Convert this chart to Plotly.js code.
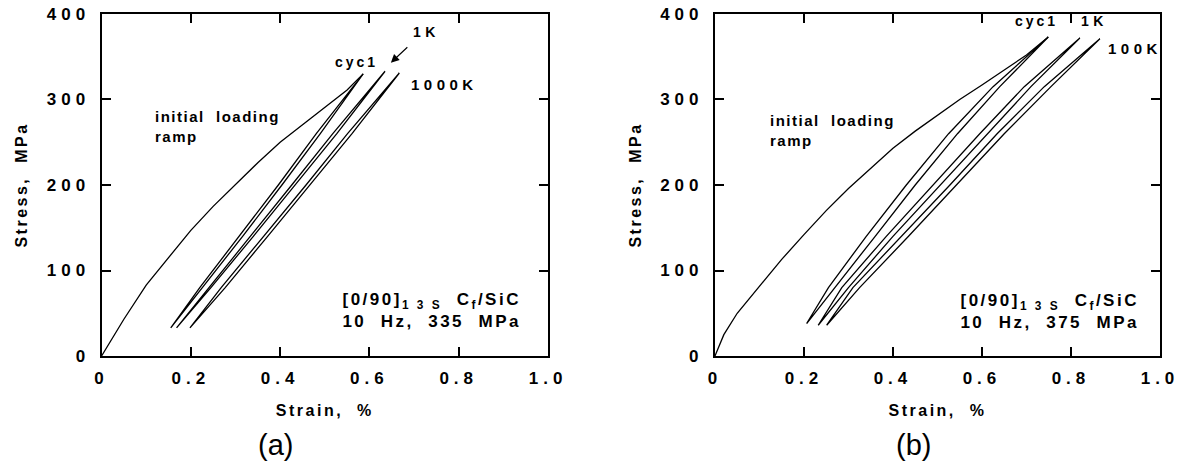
<!DOCTYPE html>
<html><head><meta charset="utf-8">
<script src="https://cdn.plot.ly/plotly-3.0.1.min.js"></script>
<style>
html,body{margin:0;padding:0;background:#fff;}
#chart{width:1189px;height:466px;}
g.xtick text, g.ytick text, g.x2tick text, g.y2tick text { letter-spacing: 5px; }
text.xtitle, text.x2title, text.ytitle, text.y2title { letter-spacing: 2.5px; }
text.annotation-text { letter-spacing: 3px; }
g.annotation[data-index="0"] text.annotation-text, g.annotation[data-index="5"] text.annotation-text { letter-spacing: 1.5px; }
g.annotation[data-index="2"] text.annotation-text, g.annotation[data-index="3"] text.annotation-text,
g.annotation[data-index="7"] text.annotation-text, g.annotation[data-index="8"] text.annotation-text { letter-spacing: 4.5px; }
g.annotation[data-index="9"] text.annotation-text, g.annotation[data-index="10"] text.annotation-text { letter-spacing: 2.5px; }
g.annotation[data-index="11"] text.annotation-text, g.annotation[data-index="12"] text.annotation-text { letter-spacing: 0px; }
</style>
</head><body><div id="chart"></div>
<script>
// ---------- Panel (a): [0/90]13S Cf/SiC, 10 Hz, 335 MPa ----------
const rampA_strain = [0, 0.05, 0.1, 0.15, 0.2, 0.25, 0.3, 0.35, 0.4, 0.45, 0.5, 0.55, 0.586];
const rampA_stress = [0, 43, 83, 115, 147, 175, 201, 226, 250, 270, 290, 311, 330];
const cyc1A_strain = [0.155, 0.226, 0.316, 0.404, 0.49, 0.586, 0.481, 0.396, 0.308, 0.220, 0.155];
const cyc1A_stress = [33, 80, 140, 200, 260, 330, 260, 200, 140, 80, 33];
const k1A_strain = [0.168, 0.245, 0.34, 0.434, 0.527, 0.635, 0.518, 0.426, 0.333, 0.239, 0.168];
const k1A_stress = [33, 80, 140, 200, 260, 333, 260, 200, 140, 80, 33];
const k1000A_strain = [0.198, 0.277, 0.372, 0.467, 0.561, 0.667, 0.551, 0.458, 0.363, 0.268, 0.198];
const k1000A_stress = [33, 80, 140, 200, 260, 331, 260, 200, 140, 80, 33];

// ---------- Panel (b): [0/90]13S Cf/SiC, 10 Hz, 375 MPa ----------
const rampB_strain = [0, 0.02, 0.05, 0.1, 0.15, 0.2, 0.25, 0.3, 0.35, 0.4, 0.45, 0.5, 0.55, 0.6, 0.65, 0.7, 0.749];
const rampB_stress = [0, 25, 50, 82, 113, 142, 170, 196, 220, 243, 263, 282, 300, 317, 334, 352, 373];
const cyc1B_strain = [0.206, 0.27, 0.36, 0.45, 0.545, 0.64, 0.749, 0.625, 0.525, 0.43, 0.34, 0.255, 0.206];
const cyc1B_stress = [38, 80, 140, 200, 260, 315, 373, 315, 260, 200, 140, 80, 38];
const k1B_strain = [0.232, 0.3, 0.4, 0.506, 0.612, 0.71, 0.82, 0.695, 0.595, 0.49, 0.385, 0.285, 0.232];
const k1B_stress = [36, 80, 140, 200, 260, 315, 372, 315, 260, 200, 140, 80, 36];
const k100B_strain = [0.251, 0.325, 0.435, 0.543, 0.65, 0.755, 0.865, 0.74, 0.634, 0.528, 0.42, 0.31, 0.251];
const k100B_stress = [36, 80, 140, 200, 260, 315, 371, 315, 260, 200, 140, 80, 36];

// ---------- Tick labels ----------
const strainTicks = [0, 0.2, 0.4, 0.6, 0.8, 1.0];
const strainTickText = ['0', '0.2', '0.4', '0.6', '0.8', '1.0'];
const stressTicks = [0, 100, 200, 300, 400];
const stressTickText = ['0', '100', '200', '300', '400'];

const FONT = 'Liberation Sans, Arial, Helvetica, sans-serif';
const lineStyle = {color: '#000', width: 1.3};

function tr(x, y, xa, ya) {
  return {x: x, y: y, xaxis: xa, yaxis: ya, type: 'scatter', mode: 'lines',
          line: lineStyle, hoverinfo: 'skip', showlegend: false};
}

const data = [
  tr(rampA_strain, rampA_stress, 'x', 'y'),
  tr(cyc1A_strain, cyc1A_stress, 'x', 'y'),
  tr(k1A_strain, k1A_stress, 'x', 'y'),
  tr(k1000A_strain, k1000A_stress, 'x', 'y'),
  tr(rampB_strain, rampB_stress, 'x2', 'y2'),
  tr(cyc1B_strain, cyc1B_stress, 'x2', 'y2'),
  tr(k1B_strain, k1B_stress, 'x2', 'y2'),
  tr(k100B_strain, k100B_stress, 'x2', 'y2')
];

function xax(domain, anchor) {
  return {domain: domain, anchor: anchor, range: [0, 1.0], showgrid: false, zeroline: false,
    showline: true, linewidth: 2, linecolor: '#000', mirror: 'ticks',
    ticks: 'inside', ticklen: 9, tickwidth: 2, tickcolor: '#000',
    tickvals: strainTicks, ticktext: strainTickText, ticklabelstandoff: 6,
    tickfont: {family: FONT, size: 17, color: '#000', weight: 'bold'},
    title: {text: 'Strain,  %', standoff: 17, font: {family: FONT, size: 16, color: '#000', weight: 'bold'}},
    automargin: false, fixedrange: true};
}
function yax(domain, anchor) {
  return {domain: domain, anchor: anchor, range: [0, 400], showgrid: false, zeroline: false,
    showline: true, linewidth: 2, linecolor: '#000', mirror: 'ticks',
    ticks: 'inside', ticklen: 9, tickwidth: 2, tickcolor: '#000',
    tickvals: stressTicks, ticktext: stressTickText, ticklabelstandoff: 6,
    tickfont: {family: FONT, size: 17, color: '#000', weight: 'bold'},
    title: {text: 'Stress,  MPa', standoff: 15, font: {family: FONT, size: 16, color: '#000', weight: 'bold'}},
    automargin: false, fixedrange: true};
}

function bf(size) { return {family: FONT, size: size, color: '#000', weight: 'bold'}; }
function ann(text, x, y, xr, yr, xanchor, size, extra) {
  return Object.assign({text: text, x: x, y: y, xref: xr, yref: yr, showarrow: false,
    xanchor: xanchor, yanchor: 'middle', font: bf(size), align: xanchor === 'right' ? 'right' : 'left'}, extra || {});
}

const annotations = [
  ann('initial  loading<br>ramp', 0.115, 268, 'x', 'y', 'left', 15),          // 0
  ann('cyc1', 0.57, 344, 'x', 'y', 'center', 14),                              // 1
  ann('1K', 0.725, 379, 'x', 'y', 'center', 14),                               // 2
  ann('1000K', 0.76, 317, 'x', 'y', 'center', 15),                             // 3
  {x: 0.648, y: 343, ax: 0.695, ay: 366, xref: 'x', yref: 'y', axref: 'x', ayref: 'y',
   text: ' ', showarrow: true, arrowhead: 2, arrowsize: 1.5, arrowwidth: 1.1, arrowcolor: '#000'}, // 4
  ann('initial  loading<br>ramp', 0.119, 264, 'x2', 'y2', 'left', 15),        // 5
  ann('cyc1', 0.723, 392, 'x2', 'y2', 'center', 14),                           // 6
  ann('1K', 0.85, 392, 'x2', 'y2', 'center', 14),                              // 7
  ann('100K', 0.938, 360, 'x2', 'y2', 'center', 15),                           // 8
  ann('[0/90]<sub>1 3 S</sub>  C<sub>f</sub>/SiC<br>10  Hz,  335  MPa', 0.944, 53, 'x', 'y', 'right', 17),  // 9
  ann('[0/90]<sub>1 3 S</sub>  C<sub>f</sub>/SiC<br>10  Hz,  375  MPa', 0.957, 52, 'x2', 'y2', 'right', 17), // 10
  ann('(a)', 0.2355, 0.045, 'paper', 'paper', 'center', 29, {font: {family: FONT, size: 29, color: '#000'}}), // 11
  ann('(b)', 0.772, 0.045, 'paper', 'paper', 'center', 29, {font: {family: FONT, size: 29, color: '#000'}})   // 12
];

const yDom = [0.236, 0.97];
const layout = {
  width: 1189, height: 466,
  margin: {l: 0, r: 0, t: 0, b: 0, pad: 0},
  paper_bgcolor: '#fff', plot_bgcolor: '#fff',
  showlegend: false,
  xaxis: xax([0.0854, 0.4609], 'y'),
  yaxis: yax(yDom, 'x'),
  xaxis2: xax([0.6013, 0.9756], 'y2'),
  yaxis2: yax(yDom, 'x2'),
  annotations: annotations
};

Plotly.newPlot('chart', data, layout, {displayModeBar: false, staticPlot: true});
</script></body></html>
